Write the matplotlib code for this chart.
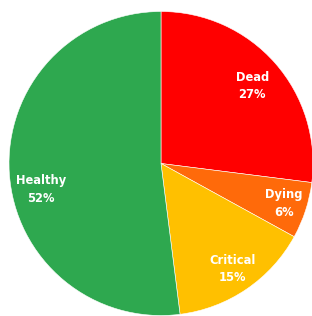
import matplotlib
matplotlib.use("Agg")
import matplotlib.pyplot as plt
import numpy as np

categories = ["Dead", "Dying", "Critical", "Healthy"]
values = [27, 6, 15, 52]
colors = ["#ff0000", "#ff6a0a", "#ffc000", "#2ea84f"]

fig = plt.figure(figsize=(3.12, 3.16), dpi=100)
ax = fig.add_axes([9/312, 0.5/316, 304/312, 304/316])
wedges, _ = ax.pie(values, colors=colors, startangle=90, counterclock=False,
                   radius=1.0, wedgeprops=dict(linewidth=0.4, edgecolor="#ffffff"))
ax.set_xlim(-1, 1)
ax.set_ylim(-1, 1)
ax.set_aspect("equal")
ax.axis("off")

dists = [0.80, 0.85, 0.84, 0.79]
for w, name, v, d in zip(wedges, categories, values, dists):
    ang = np.deg2rad((w.theta1 + w.theta2) / 2)
    x, y = d * np.cos(ang), d * np.sin(ang)
    if name == "Healthy":
        y -= 0.12
    if name == "Dead":
        y -= 0.02
    ax.text(x, y, f"{name}\n{v}%", ha="center", va="center", color="white",
            fontsize=8.3, fontweight="bold", linespacing=1.45)

fig.savefig("out.png", dpi=100)
